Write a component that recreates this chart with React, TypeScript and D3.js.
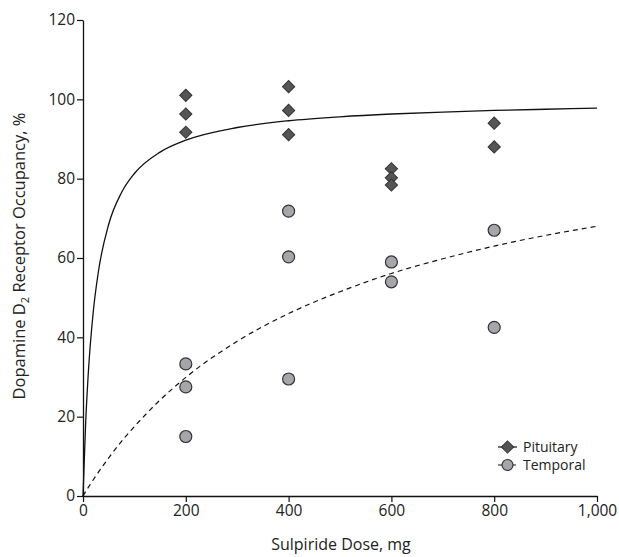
import React, { useRef, useEffect } from "react";
import * as d3 from "d3";

// scatter data
const pituitaryDose = [200, 200, 200, 400, 400, 400, 600, 600, 600, 800, 800];
const pituitaryOcc = [101, 96.3, 91.7, 103.2, 97.2, 91.1, 82.5, 80.2, 78.4, 94, 88];

const temporalDose = [200, 200, 200, 400, 400, 400, 600, 600, 800, 800];
const temporalOcc = [33.3, 27.5, 15, 71.8, 60.3, 29.5, 59, 54, 67, 42.5];

// fitted curves, read at these doses
const curveDose = [0, 5, 10, 20, 30, 50, 75, 100, 150, 200, 300, 400, 500, 600, 700, 800, 900, 1000];
const pituitaryCurve = [0, 17.9, 30.3, 46.5, 56.6, 68.5, 76.5, 81.3, 86.7, 89.7, 92.9, 94.6, 95.6, 96.3, 96.8, 97.2, 97.5, 97.8];
const temporalCurve = [0, 1.1, 2.1, 4.1, 6.0, 9.6, 13.8, 17.5, 24.2, 29.9, 39.0, 46.0, 51.5, 56.1, 59.8, 63.0, 65.7, 68.0];

const xTicks = [0, 200, 400, 600, 800, 1000];
const yTicks = [0, 20, 40, 60, 80, 100, 120];
const seriesNames = ["Pituitary", "Temporal"];

const App = () => {
  const ref = useRef<SVGSVGElement>(null);

  useEffect(() => {
    const svg = d3.select(ref.current);
    svg.selectAll("*").remove();

    const font = "'Open Sans', 'Noto Sans', sans-serif";
    const x = d3.scaleLinear().domain([0, 1000]).range([83, 597]);
    const y = d3.scaleLinear().domain([0, 120]).range([496, 20]);

    const xAxis = svg
      .append("g")
      .attr("transform", `translate(0,${y(0)})`)
      .call(
        d3
          .axisBottom(x)
          .tickValues(xTicks)
          .tickSize(6)
          .tickSizeOuter(0)
          .tickFormat((d) => d3.format(",")(d as number))
      );
    const yAxis = svg
      .append("g")
      .attr("transform", `translate(${x(0)},0)`)
      .call(d3.axisLeft(y).tickValues(yTicks).tickSize(6).tickSizeOuter(0));

    [xAxis, yAxis].forEach((g) => {
      g.select(".domain").attr("stroke", "#111").attr("stroke-width", 1.3);
      g.selectAll(".tick line").attr("stroke", "#111").attr("stroke-width", 1.2);
      g.selectAll(".tick text")
        .attr("fill", "#222")
        .style("font-family", font)
        .style("font-size", "15.5px");
    });
    xAxis.selectAll(".tick text").attr("y", 7).attr("dy", "0.85em");
    yAxis.selectAll(".tick text").attr("x", -8);

    // axis titles
    svg
      .append("text")
      .attr("text-anchor", "middle")
      .attr("x", 341)
      .attr("y", 550)
      .attr("fill", "#222")
      .style("font-family", font)
      .style("font-size", "16px")
      .text("Sulpiride Dose, mg");

    const yt = svg
      .append("text")
      .attr("text-anchor", "middle")
      .attr("transform", `translate(25,${256}) rotate(-90)`)
      .attr("fill", "#222")
      .style("font-family", font)
      .style("font-size", "16.5px");
    yt.append("tspan").text("Dopamine D");
    yt.append("tspan").attr("dy", 4).style("font-size", "11px").text("2");
    yt.append("tspan").attr("dy", -4).text(" Receptor Occupancy, %");

    // fitted curves
    const line = d3
      .line<number>()
      .x((_, i) => x(curveDose[i]))
      .y((d) => y(d))
      .curve(d3.curveMonotoneX);

    svg
      .append("path")
      .attr("d", line(pituitaryCurve))
      .attr("fill", "none")
      .attr("stroke", "#111")
      .attr("stroke-width", 1.3);

    svg
      .append("path")
      .attr("d", line(temporalCurve))
      .attr("fill", "none")
      .attr("stroke", "#111")
      .attr("stroke-width", 1.2)
      .attr("stroke-dasharray", "5 4");

    const diamond = d3.symbol().type(d3.symbolSquare).size(75);

    // temporal circles
    svg
      .append("g")
      .selectAll("circle")
      .data(temporalOcc)
      .join("circle")
      .attr("cx", (_, i) => x(temporalDose[i]))
      .attr("cy", (d) => y(d))
      .attr("r", 6)
      .attr("fill", "#a6a6aa")
      .attr("stroke", "#333")
      .attr("stroke-width", 1.2);

    // pituitary diamonds
    svg
      .append("g")
      .selectAll("path")
      .data(pituitaryOcc)
      .join("path")
      .attr("d", diamond)
      .attr("transform", (d, i) => `translate(${x(pituitaryDose[i])},${y(d)}) rotate(45)`)
      .attr("fill", "#555")
      .attr("stroke", "#333")
      .attr("stroke-width", 1);

    // legend
    const lg = svg.append("g").attr("transform", "translate(498,447)");
    seriesNames.forEach((name, i) => {
      const row = lg.append("g").attr("transform", `translate(0,${i * 18})`);
      row
        .append("line")
        .attr("x1", 0)
        .attr("x2", 19)
        .attr("stroke", "#111")
        .attr("stroke-width", 1.2)
        .attr("stroke-dasharray", i === 0 ? null : "4 3");
      if (i === 0) {
        row
          .append("path")
          .attr("d", diamond)
          .attr("transform", "translate(9.5,0) rotate(45)")
          .attr("fill", "#555")
          .attr("stroke", "#333");
      } else {
        row
          .append("circle")
          .attr("cx", 9.5)
          .attr("r", 5.5)
          .attr("fill", "#a6a6aa")
          .attr("stroke", "#333")
          .attr("stroke-width", 1.2);
      }
      row
        .append("text")
        .attr("x", 25)
        .attr("dy", "0.35em")
        .attr("fill", "#222")
        .style("font-family", font)
        .style("font-size", "14px")
        .text(name);
    });
  }, []);

  return (
    <svg
      ref={ref}
      width={619}
      height={557}
      style={{ position: "absolute", left: 0, top: 0, background: "#fff" }}
    />
  );
};

export default App;
